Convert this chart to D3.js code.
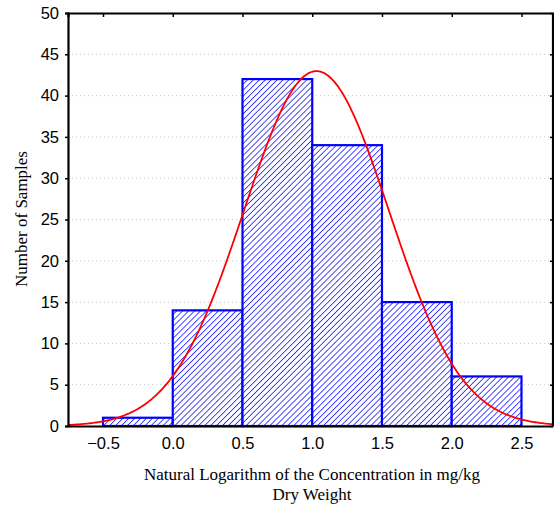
<!DOCTYPE html>
<html><head><meta charset="utf-8">
<script src="https://cdn.jsdelivr.net/npm/d3@7"></script>
<style>body{margin:0;background:#fff;}svg{display:block;}</style>
</head><body>
<script>
const binStarts = [-0.5, 0.0, 0.5, 1.0, 1.5, 2.0];
const binWidth = 0.5;
const counts = [1, 14, 42, 34, 15, 6];
const xTicks = [-0.5, 0.0, 0.5, 1.0, 1.5, 2.0, 2.5];
const yTicks = [0, 5, 10, 15, 20, 25, 30, 35, 40, 45, 50];
const fitMean = 1.03;
const fitSd = 0.52;

const W = 554, H = 508;
const svg = d3.select("body").append("svg").attr("width", W).attr("height", H);
const L = 68, R = 553, T = 13, B = 426;
const x = d3.scaleLinear().domain([-0.751, 2.726]).range([L, R]);
const y = d3.scaleLinear().domain([0, 50]).range([B, T]);

const P = 4.2;
const defs = svg.append("defs");
const pat = defs.append("pattern").attr("id", "hatch").attr("patternUnits", "userSpaceOnUse")
  .attr("width", P).attr("height", P).attr("patternTransform", "rotate(45)");
pat.append("rect").attr("width", P).attr("height", P).attr("fill", "#fff");
pat.append("line").attr("x1", 0).attr("y1", 0).attr("x2", 0).attr("y2", P)
  .attr("stroke", "#0000ff").attr("stroke-width", 1.4);

// grid
svg.append("g").selectAll("line").data(yTicks.filter(d => d > 0 && d < 50)).join("line")
  .attr("x1", L).attr("x2", R).attr("y1", d => y(d)).attr("y2", d => y(d))
  .attr("stroke", "#c8c8c8").attr("stroke-width", 1).attr("stroke-dasharray", "1,3");

// bars
const total = d3.sum(counts);
svg.append("g").selectAll("rect").data(counts).join("rect")
  .attr("x", (d, i) => x(binStarts[i]))
  .attr("y", d => y(d))
  .attr("width", (d, i) => x(binStarts[i] + binWidth) - x(binStarts[i]))
  .attr("height", d => y(0) - y(d))
  .attr("fill", "url(#hatch)").attr("stroke", "#0000ff").attr("stroke-width", 2.2);

// fitted normal curve
const xs = d3.range(x.domain()[0], x.domain()[1] + 0.001, 0.01);
const dens = v => total * binWidth / (fitSd * Math.sqrt(2 * Math.PI)) * Math.exp(-0.5 * ((v - fitMean) / fitSd) ** 2);
svg.append("path").datum(xs)
  .attr("d", d3.line().x(d => x(d)).y(d => y(dens(d))))
  .attr("fill", "none").attr("stroke", "#ff0000").attr("stroke-width", 1.8);

// axes
const fmt = d3.format(".1f");
const gL = svg.append("g").attr("transform", `translate(${L},0)`)
  .call(d3.axisLeft(y).tickValues(yTicks).tickSize(3).tickPadding(6));
const gR = svg.append("g").attr("transform", `translate(${R},0)`)
  .call(d3.axisLeft(y).tickValues(yTicks).tickSize(3).tickFormat(""));
const gB = svg.append("g").attr("transform", `translate(0,${B})`)
  .call(d3.axisBottom(x).tickValues(xTicks).tickFormat(fmt).tickSize(0).tickPadding(11));
const gT = svg.append("g").attr("transform", `translate(0,${T})`)
  .call(d3.axisBottom(x).tickValues(xTicks).tickSize(4).tickFormat(""));
[gL, gR, gB, gT].forEach(g => {
  g.select(".domain").attr("stroke", "#000").attr("stroke-width", 2.2);
  g.selectAll(".tick line").attr("stroke", "#000").attr("stroke-width", 1.5);
  g.selectAll("text").attr("font-family", "Liberation Sans, Arial, sans-serif").attr("font-size", 16.5).attr("fill", "#000");
});
gR.select(".domain").remove();
svg.append("line").attr("x1", R).attr("x2", R).attr("y1", T).attr("y2", B).attr("stroke", "#000").attr("stroke-width", 2.2);

// titles
svg.append("text").attr("transform", "translate(27,219) rotate(-90)").attr("text-anchor", "middle")
  .attr("font-family", "Liberation Serif, Times New Roman, serif").attr("font-size", 17)
  .text("Number of Samples");
const xt = svg.append("text").attr("text-anchor", "middle")
  .attr("font-family", "Liberation Serif, Times New Roman, serif").attr("font-size", 17);
xt.append("tspan").attr("x", 312).attr("y", 480).text("Natural Logarithm of the Concentration in mg/kg");
xt.append("tspan").attr("x", 312).attr("y", 500).text("Dry Weight");
</script>
</body></html>
